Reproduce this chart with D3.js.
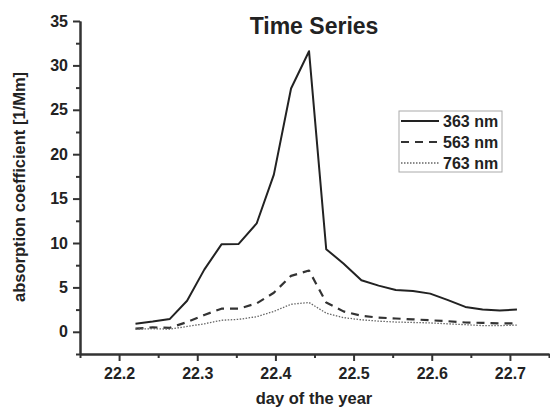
<!DOCTYPE html>
<html>
<head>
<meta charset="utf-8">
<script src="https://cdn.jsdelivr.net/npm/d3@7"></script>
<style>
  body { margin: 0; background: #fff; }
  text { font-family: "Liberation Sans", Arial, sans-serif; font-weight: bold; fill: #222; }
</style>
</head>
<body>
<svg id="chart" width="550" height="408"></svg>
<script>
// day of the year (sample times)
var days = [22.221, 22.243, 22.265, 22.287, 22.309, 22.331, 22.353, 22.376, 22.398, 22.420, 22.443, 22.465,
            22.487, 22.510, 22.532, 22.554, 22.576, 22.598, 22.620, 22.643, 22.665, 22.687, 22.709];
// absorption coefficient [1/Mm]
var nm363 = [0.9, 1.15, 1.45, 3.5, 7.0, 9.85, 9.9, 12.2, 17.7, 27.4, 31.6, 9.3,
             7.7, 5.8, 5.2, 4.7, 4.6, 4.3, 3.6, 2.8, 2.5, 2.4, 2.5];
var nm563 = [0.35, 0.5, 0.45, 1.1, 1.9, 2.6, 2.6, 3.2, 4.4, 6.3, 6.9, 3.3,
             2.3, 1.8, 1.6, 1.5, 1.4, 1.3, 1.2, 1.05, 1.0, 0.95, 0.95];
var nm763 = [0.3, 0.35, 0.3, 0.6, 0.9, 1.3, 1.4, 1.7, 2.3, 3.1, 3.3, 2.1,
             1.6, 1.35, 1.2, 1.1, 1.05, 1.0, 0.9, 0.8, 0.7, 0.7, 0.75];
var seriesNames = ["363 nm", "563 nm", "763 nm"];
var xMajor = [22.2, 22.3, 22.4, 22.5, 22.6, 22.7];
var xMinor = [22.15, 22.25, 22.35, 22.45, 22.55, 22.65, 22.75];
var yMajor = [0, 5, 10, 15, 20, 25, 30, 35];
var yMinor = [-2.5, 2.5, 7.5, 12.5, 17.5, 22.5, 27.5, 32.5];

var margin = { top: 21, right: 1, bottom: 54, left: 80 },
    width = 550 - margin.left - margin.right,
    height = 408 - margin.top - margin.bottom;

var svg = d3.select("#chart");
var g = svg.append("g")
    .attr("transform", "translate(" + margin.left + "," + margin.top + ")");

var x = d3.scaleLinear().domain([22.15, 22.75]).range([0, width]);
var y = d3.scaleLinear().domain([-2.5, 35]).range([height, 0]);

// series styles
var styles = [
    { data: nm363, dash: null, width: 2, color: "#222" },
    { data: nm563, dash: "8,6", width: 2.2, color: "#333" },
    { data: nm763, dash: "1.5,1.5", width: 1.3, color: "#666" }
];

var line = d3.line()
    .x(function (d, i) { return x(days[i]); })
    .y(function (d) { return y(d); });

styles.forEach(function (s) {
    g.append("path")
        .attr("d", line(s.data))
        .attr("fill", "none")
        .attr("stroke", s.color)
        .attr("stroke-width", s.width)
        .attr("stroke-dasharray", s.dash)
        .attr("stroke-linejoin", "round");
});

// axes: minor ticks first, then major with labels
function styleAxis(sel) {
    sel.selectAll("path, line").attr("stroke", "#333").attr("stroke-width", 2);
    sel.selectAll("text").attr("font-size", 16).attr("fill", "#222");
}

g.append("g")
    .attr("transform", "translate(0," + height + ")")
    .call(d3.axisBottom(x).tickValues(xMinor).tickSize(4).tickFormat("").tickSizeOuter(0))
    .call(styleAxis);
g.append("g")
    .attr("transform", "translate(0," + height + ")")
    .call(d3.axisBottom(x).tickValues(xMajor).tickSize(7).tickPadding(7).tickSizeOuter(0).tickFormat(d3.format(".1f")))
    .call(styleAxis);

g.append("g")
    .call(d3.axisLeft(y).tickValues(yMinor).tickSize(4).tickFormat("").tickSizeOuter(0))
    .call(styleAxis);
g.append("g")
    .call(d3.axisLeft(y).tickValues(yMajor).tickSize(7).tickPadding(5).tickSizeOuter(0))
    .call(styleAxis);

// title and axis labels
svg.append("text")
    .attr("x", 314).attr("y", 34)
    .attr("text-anchor", "middle")
    .attr("font-size", 23)
    .text("Time Series");

svg.append("text")
    .attr("x", 314).attr("y", 404)
    .attr("text-anchor", "middle")
    .attr("font-size", 16.5)
    .text("day of the year");

svg.append("text")
    .attr("transform", "translate(25,187) rotate(-90)")
    .attr("text-anchor", "middle")
    .attr("font-size", 16.5)
    .text("absorption coefficient [1/Mm]");

// legend
var legend = svg.append("g").attr("transform", "translate(399,111)");
legend.append("rect")
    .attr("width", 103).attr("height", 61)
    .attr("fill", "#fff")
    .attr("stroke", "#aaa")
    .attr("stroke-width", 1);

styles.forEach(function (s, i) {
    var yy = 10 + i * 21;
    legend.append("line")
        .attr("x1", 2).attr("x2", 40)
        .attr("y1", yy).attr("y2", yy)
        .attr("stroke", s.color)
        .attr("stroke-width", s.width)
        .attr("stroke-dasharray", s.dash);
    legend.append("text")
        .attr("x", 44).attr("y", yy + 6)
        .attr("font-size", 16)
        .text(seriesNames[i]);
});
</script>
</body>
</html>
